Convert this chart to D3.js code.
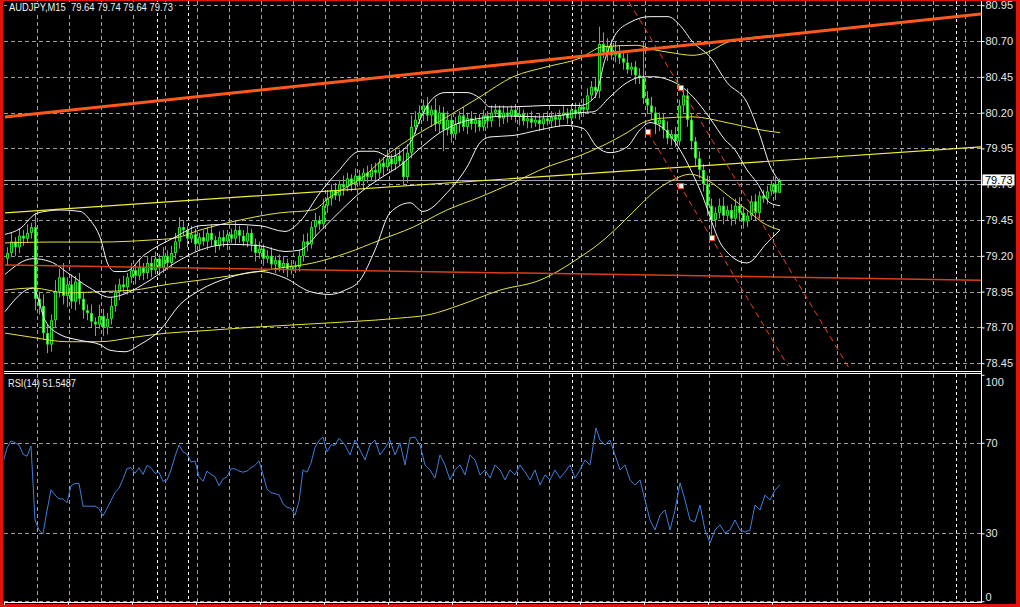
<!DOCTYPE html>
<html><head><meta charset="utf-8">
<script src="https://cdn.jsdelivr.net/npm/d3@7"></script>
<style>html,body{margin:0;padding:0;background:#000;overflow:hidden}</style>
</head><body><svg id="c" width="1020" height="607"></svg>
<script>
// ---------- DATA ----------
const symbolTitle = "AUDJPY,M15  79.64 79.74 79.64 79.73";
const rsiTitle = "RSI(14) 51.5487";
const priceTicks = [80.95,80.70,80.45,80.20,79.95,79.70,79.45,79.20,78.95,78.70,78.45];
const rsiTicks = [100,70,30,0];
const rsiLevels = [70,30,0];
const lastPrice = 79.73;
const firstOpen = 79.18;
const closes = [79.22,79.30,79.26,79.34,79.32,79.36,79.40,
78.90,
78.85,78.66,78.58,78.75,
78.95,79.05,78.92,79.00,78.88,79.02,78.90,
78.82,78.80,78.74,78.72,78.78,78.70,78.76,78.85,
78.95,79.00,78.98,79.05,79.10,79.06,79.12,79.08,79.15,
79.10,79.18,79.12,79.20,79.15,79.22,79.30,79.40,
79.38,79.32,79.35,79.28,79.33,79.30,79.36,79.31,79.27,79.33,79.30,79.35,79.32,79.38,79.34,79.30,79.36,79.28,79.22,
79.25,79.18,79.20,79.14,79.17,79.12,79.15,79.10,79.13,79.12,
79.20,79.30,79.28,79.40,79.45,79.42,79.55,79.60,
79.66,79.62,79.70,79.68,79.74,79.70,79.76,79.72,79.78,79.75,
79.80,79.78,79.85,79.82,79.88,79.84,79.90,79.86,79.75,79.92,
80.10,80.15,80.20,
80.25,80.18,80.22,80.12,80.20,80.08,80.15,80.05,
80.12,80.18,80.10,80.16,80.12,80.15,80.10,
80.18,80.14,80.20,80.22,80.16,80.20,80.18,80.22,80.17,80.19,80.14,80.16,80.13,80.15,80.12,80.16,80.14,80.17,80.15,
80.18,80.20,80.16,80.22,80.19,80.24,80.22,
80.32,80.38,80.35,
80.68,
80.62,80.66,80.60,80.63,80.58,
80.55,80.50,80.52,80.46,80.44,
80.30,80.25,80.20,80.12,
80.15,80.08,80.02,80.05,
80.00,80.25,80.32,
80.15,80.00,79.88,
79.80,79.70,79.55,
79.45,
79.50,79.55,79.48,79.52,79.46,79.55,79.50,79.44,79.48,
79.58,79.50,79.62,79.60,
79.65,79.70,79.64,79.73];
// wick extents in hundredths of a yen
const wickUp = [4,6,3,5,4,6,3, 10, 5,8,6,4, 8,6,10,5,7,4,6, 5,4,6,3,8,5,4,6, 5,4,6,3,5,4,6,3,5,
4,5,3,6,4,5,6,7, 5,3,6,4,3,5,4,6,3,4,5,3,4,6,3,4,5,3,4, 5,3,4,6,3,4,5,3,4,3, 4,5,6,4,5,3,5,6,
4,5,3,6,4,3,5,4,3,5, 4,5,3,4,6,3,5,4,8,6, 8,6,5, 4,6,3,8,5,4,6,3, 5,3,6,4,5,3,4,
4,3,5,4,3,5,4,3,4,5,3,4,5,3,4,3,5,4,3, 4,5,3,4,5,3,6, 5,4,6, 12, 8,6,5,7,4, 5,6,3,4,5,
26,5,6,4, 5,4,6,3, 5,4,6, 5,4,3, 5,4,6, 5, 4,5,6,3,4,5,6,4,3, 4,5,3,4, 4,3,5,1];
const wickDown = [5,3,6,4,5,3,4, 8, 6,5,6,5, 5,4,6,8,5,6,4, 6,5,4,8,3,6,5,4, 4,6,3,5,4,6,3,5,4,
5,3,6,4,5,3,4,5, 4,6,3,5,4,3,6,4,5,3,4,6,3,4,5,3,4,5,6, 4,5,3,4,6,3,4,5,3,4, 3,4,5,3,6,4,3,5,
5,3,4,6,3,5,4,3,6,4, 3,5,4,6,3,5,4,3,5,4, 4,5,3, 6,4,8,5,6,15,4,6, 4,6,3,5,4,6,3,
3,5,4,3,6,4,5,3,4,6,3,5,4,3,5,4,3,4,5, 5,3,4,6,3,4,5, 3,4,5, 5, 4,6,3,5,4, 5,3,4,6,4,
4,6,5,7, 5,6,4,5, 4,3,5, 5,6,5, 6,5,7, 13, 5,4,6,3,5,4,6,5,4, 3,5,4,3, 4,3,5,0];

// indicator readings: [bar index, price]
const bbUpper = [[-0.5,79.35],[3.25,79.39],[7,79.49],[9.5,79.51],[13.25,79.52],[18.25,79.51],[20.75,79.45],[23.25,79.33],[25.25,79.14],[27,79.09],[29.5,79.09],[34.5,79.21],[42,79.33],[48.25,79.41],[55.75,79.42],[63.25,79.41],[69.5,79.37],[73.25,79.44],[78.25,79.64],[82.5,79.78],[88.25,79.93],[92,79.93],[95.75,79.89],[99,79.94],[101.25,80.01],[103.25,80.15],[106.5,80.30],[109.5,80.34],[115,80.34],[118.25,80.30],[120.75,80.24],[126.5,80.24],[135,80.25],[143.25,80.25],[147,80.31],[149.5,80.57],[152,80.74],[155.75,80.83],[160.75,80.87],[165.25,80.87],[168.25,80.81],[171.5,80.69],[175.75,80.59],[180,80.41],[185,80.27],[188.25,80.04],[190.75,79.83],[193.25,79.715]];
const bbMiddle = [[-0.5,79.07],[6.5,79.18],[10.75,79.16],[15.75,79.07],[20.75,78.975],[25.75,78.91],[30.75,78.95],[35.75,79.03],[42,79.15],[48.25,79.24],[55.75,79.28],[63.25,79.27],[69.5,79.23],[73.25,79.24],[78.25,79.37],[83.25,79.51],[88.25,79.64],[93.25,79.74],[98.25,79.83],[103.25,79.95],[108.25,80.06],[113.25,80.13],[118.25,80.16],[125.75,80.176],[133.25,80.17],[138.25,80.18],[143.25,80.20],[146.5,80.205],[150.75,80.31],[155,80.41],[159,80.45],[162,80.45],[165.25,80.43],[168.25,80.39],[171.5,80.31],[175.75,80.16],[179.5,80.01],[182,79.94],[185,79.80],[187.5,79.71],[190.75,79.57],[193.25,79.55]];
const bbLower = [[-0.5,78.81],[6.5,78.975],[9.5,78.75],[13.25,78.65],[18.25,78.61],[23.25,78.58],[25.75,78.54],[29.5,78.53],[33.25,78.58],[38.25,78.68],[43.25,78.86],[48.25,78.96],[55.75,79.05],[63.25,79.09],[69.5,79.045],[75.75,78.95],[80.75,78.93],[84.5,78.96],[88.25,79.03],[92,79.24],[95.75,79.50],[100.75,79.57],[104,79.51],[110,79.64],[115,79.82],[118.25,79.99],[120.75,80.03],[126.5,80.04],[133.25,80.08],[140,80.11],[144,80.09],[147.5,79.96],[150.75,79.92],[155,79.96],[158.25,80.08],[160.75,80.13],[164.5,80.08],[168.25,79.94],[173.25,79.66],[179,79.26],[185,79.15],[190,79.29],[193.25,79.38]];
const maUpper = [[-0.5,79.29],[10.75,79.296],[23.25,79.296],[35.75,79.31],[42,79.324],[48.25,79.38],[58.25,79.45],[68.25,79.50],[76.5,79.52],[80.75,79.61],[89,79.75],[95.75,79.92],[101.5,80.03],[110,80.17],[118.25,80.31],[126.5,80.45],[135,80.52],[143.25,80.58],[149,80.66],[157.5,80.67],[161.5,80.64],[165.75,80.62],[171.5,80.60],[175,80.62],[180,80.69],[185,80.72],[193.25,80.74]];
const maMiddle = [[-0.5,78.96],[6.5,78.975],[15,78.94],[23.25,78.95],[31.5,78.96],[40,79.00],[48.25,79.03],[58.25,79.07],[68.25,79.115],[76.5,79.15],[85,79.22],[93.25,79.31],[101.5,79.40],[110,79.52],[118.25,79.61],[126.5,79.71],[135,79.82],[143.25,79.90],[148.25,79.96],[155,80.06],[159,80.13],[163.25,80.16],[171.5,80.17],[180,80.13],[188.25,80.08],[193.25,80.06]];
const maLower = [[-0.5,78.66],[6.5,78.63],[15,78.60],[23.25,78.60],[31.5,78.63],[40,78.66],[48.25,78.675],[60.75,78.70],[73.25,78.72],[85.75,78.74],[98.25,78.765],[105.75,78.79],[113.25,78.856],[123.25,78.96],[133.25,79.03],[143.25,79.19],[148.25,79.29],[153.25,79.415],[158.25,79.554],[161.5,79.64],[166.5,79.73],[170.75,79.77],[175,79.73],[180.75,79.61],[185,79.52],[189,79.43],[193.25,79.38]];

// drawn objects: [bar index, price] end points
const yellowTrend = [[-0.5,79.50],[243.5,79.96]];
const orangeTrend = [[-0.5,80.169],[243.5,80.888]];
const redTrend = [[-0.5,79.135],[243.5,79.03]];
const channelUpper = [[155.5,80.972],[210.5,78.416]];
const channelLower = [[160.25,80.064],[195.25,78.43]];
const channelAnchors = [[160.25,80.064],[168.5,80.372],[168.5,79.687],[176.25,79.324]];

// RSI readings: [bar index, value]
const rsiPoints = [[-1,61],[0,67.7],[1,70.8],[2,70],[3,69],[4,65],[5,64],[6,68.6],[7,35.9],[8,31.5],[9,29.8],[10,40],[11,49.2],[12,47],[13,45.2],[14,45.2],[15,43.5],[16,51],[17,52],[18,52],[19,42],[20,42],[21,42],[22,42],[23,41],[24,37.7],[25,41],[26,44.5],[27,48],[28,50],[29,54],[30,58.6],[31,59],[32,56.5],[33,59],[34,56],[35,60],[36,59],[37,56.5],[38,57],[39,53],[40,53.5],[41,58],[42,64],[43,69],[44,66],[45,65],[46,61.5],[47,62],[48,55],[49,53],[50,57.5],[51,56],[52,55],[53,51],[54,54],[55,55],[56,58.5],[57,58.5],[58,57.5],[59,57],[60,57.5],[61,59],[62,60],[63,62],[64,56],[65,49.5],[66,48],[67,47.5],[68,47],[69,43],[70,41.5],[71,41],[72,38],[73,44],[74,58],[75,57],[76,61],[77,68],[78,71],[79,72.5],[80,66],[81,69],[82,69],[83,72],
[84.5,69],[85.75,64.6],[87,71.2],[88.25,66.8],[89.5,62.4],[90.75,69],[92,71.2],[93.25,64.6],[94.5,67.7],[95.75,71.2],[97,64.6],[98.25,70],[99.5,60.2],[100.75,72.1],[102,72.5],[103.25,69],[104.5,60.2],[105.75,58],[107,54.4],[108.25,64.6],[109.5,60.2],[110.75,53.6],[112,58],[113.25,60.2],[114.5,55.8],[115.75,64.6],[117,62.4],[118.25,55.8],[119.5,58],[120.75,54.4],[122,60.2],[123.25,58],[124.5,53.6],[125.75,58],[127,55.8],[128.25,60.2],[129.5,57.1],[130.75,53.6],[132,58],[133.25,51.3],[134.5,55.8],[135.75,53.6],[137,58],[138.25,54.4],[139.5,57.1],[140.75,60.2],[142,54.4],[143.25,58],[144.5,62.4],[145.75,60.2],[147.25,76.5],[148.25,71.2],[149.5,69],[150.75,71.2],[152,64.6],[153.25,58],[154.5,60.2],[155.75,53.6],[157,51.3],[158.25,53.6],[159.5,44.7],[160.75,35.9],[162,31.5],[163.25,38.1],[164.5,40.3],[165.75,31.5],[167,40.3],[168.25,52.3],[169.5,44.7],[170.75,35.9],[172,35],[173.25,42.5],[174.5,31.5],[175.75,25.7],[177,31.5],[178.25,33.7],[179.5,30.2],[180.75,31.5],[182,35.9],[183.25,31.5],[184.5,30.6],[185.75,31.5],[187,42.5],[188.25,40.3],[189.5,46.9],[190.75,44.7],[192,49.1],[193.25,51.5]];

const separatorBars = [37.4, 45.3, 141.3, 237.3];

// ---------- DRAW ----------
const W = 1020, H = 607;
const svg = d3.select("#c");
const xB = d3.scaleLinear().domain([0, 193]).range([7, 779]);
const yP = d3.scaleLinear().domain([78.45, 80.95]).range([363.2, 5.2]);
const yR = d3.scaleLinear().domain([0, 100]).range([601.3, 374.8]);
const px = v => Math.round(v) + 0.5;
const L = 4, R = 981, mainTop = 1, mainBot = 371, rsiTop = 374, rsiBot = 602;

svg.append("rect").attr("width", W).attr("height", H).attr("fill", "#e3130c");
svg.append("rect").attr("x", 3).attr("y", 1).attr("width", 1013).attr("height", 603).attr("fill", "#000");

const defs = svg.append("defs");
defs.append("clipPath").attr("id", "cm").append("rect").attr("x", L).attr("y", mainTop).attr("width", R - L).attr("height", mainBot - mainTop);
defs.append("clipPath").attr("id", "cr").append("rect").attr("x", L).attr("y", rsiTop).attr("width", R - L).attr("height", rsiBot - rsiTop);

const gridCol = "#9aa0a6";
const grid = svg.append("g").attr("stroke", gridCol).attr("stroke-width", 1).attr("stroke-dasharray", "4,3");
priceTicks.forEach(v => grid.append("line").attr("x1", L).attr("x2", R).attr("y1", px(yP(v))).attr("y2", px(yP(v))));
rsiLevels.forEach(v => grid.append("line").attr("x1", L).attr("x2", R).attr("y1", px(yR(v))).attr("y2", px(yR(v))));
for (let k = 0; ; k++) {
  const x = xB(7.425 + 8 * k);
  if (x > R - 2) break;
  grid.append("line").attr("x1", px(x)).attr("x2", px(x)).attr("y1", mainTop).attr("y2", mainBot);
  grid.append("line").attr("x1", px(x)).attr("x2", px(x)).attr("y1", rsiTop).attr("y2", rsiBot);
}
const sep = svg.append("g").attr("stroke", "#ffffff").attr("stroke-width", 1).attr("stroke-dasharray", "3,3");
separatorBars.forEach(b => {
  const x = px(xB(b));
  sep.append("line").attr("x1", x).attr("x2", x).attr("y1", mainTop).attr("y2", mainBot);
  sep.append("line").attr("x1", x).attr("x2", x).attr("y1", rsiTop).attr("y2", rsiBot);
});

// main panel content
const gm = svg.append("g").attr("clip-path", "url(#cm)");
gm.append("line").attr("x1", L).attr("x2", R).attr("y1", px(yP(lastPrice))).attr("y2", px(yP(lastPrice)))
  .attr("stroke", "#a4a4b0").attr("stroke-width", 1);

const bars = closes.map((c, i) => {
  const o = i === 0 ? firstOpen : closes[i - 1];
  return { i, o, c, h: Math.max(o, c) + wickUp[i] / 100, l: Math.min(o, c) - wickDown[i] / 100 };
});
const cg = gm.append("g");
bars.forEach(b => {
  const x = Math.round(xB(b.i));
  cg.append("line").attr("x1", x + 0.5).attr("x2", x + 0.5).attr("y1", yP(b.h)).attr("y2", yP(b.l))
    .attr("stroke", "#2fd62f").attr("stroke-width", 1);
  const y1 = yP(Math.max(b.o, b.c)), y2 = yP(Math.min(b.o, b.c));
  const hh = Math.max(1, y2 - y1);
  cg.append("rect").attr("x", x - 1).attr("y", y1).attr("width", 3).attr("height", hh).attr("fill", "#2fd62f");
  if (hh > 2) cg.append("rect").attr("x", x).attr("y", y1 + 1).attr("width", 1).attr("height", hh - 2)
    .attr("fill", b.c < b.o ? "#b8f8b8" : "#0c300c");
});

const line = d3.line().x(d => xB(d[0])).y(d => yP(d[1])).curve(d3.curveMonotoneX);
const straight = d3.line().x(d => xB(d[0])).y(d => yP(d[1]));
[[maLower, "#e4e43a"], [maMiddle, "#e4e43a"], [maUpper, "#e4e43a"]].forEach(([d, c]) =>
  gm.append("path").attr("d", line(d)).attr("fill", "none").attr("stroke", c).attr("stroke-width", 1));
[bbUpper, bbMiddle, bbLower].forEach(d =>
  gm.append("path").attr("d", line(d)).attr("fill", "none").attr("stroke", "#f4f4f4").attr("stroke-width", 1));
gm.append("path").attr("d", straight(yellowTrend)).attr("fill", "none").attr("stroke", "#f0f03c").attr("stroke-width", 1.2);
gm.append("path").attr("d", straight(redTrend)).attr("fill", "none").attr("stroke", "#d8401c").attr("stroke-width", 1.5);
gm.append("path").attr("d", straight(orangeTrend)).attr("fill", "none").attr("stroke", "#ff5a1c").attr("stroke-width", 3);
[channelUpper, channelLower].forEach(d =>
  gm.append("path").attr("d", straight(d)).attr("fill", "none").attr("stroke", "#f0401c").attr("stroke-width", 1).attr("stroke-dasharray", "6,4"));
channelAnchors.forEach(d =>
  gm.append("rect").attr("x", xB(d[0]) - 2.5).attr("y", yP(d[1]) - 2.5).attr("width", 5).attr("height", 5)
    .attr("fill", "#ffffff").attr("stroke", "#f04820").attr("stroke-width", 1));

// RSI
const gr = svg.append("g").attr("clip-path", "url(#cr)");
const rsiLine = d3.line().x(d => xB(d[0])).y(d => yR(d[1]));
gr.append("path").attr("d", rsiLine(rsiPoints)).attr("fill", "none").attr("stroke", "#3f7fdc").attr("stroke-width", 1);

// borders
const bd = svg.append("g").attr("stroke", "#ffffff").attr("stroke-width", 1);
bd.append("line").attr("x1", L).attr("x2", R + 0.5).attr("y1", mainBot + 0.5).attr("y2", mainBot + 0.5);
bd.append("line").attr("x1", L).attr("x2", R + 0.5).attr("y1", rsiTop - 0.5).attr("y2", rsiTop - 0.5);
bd.append("line").attr("x1", R + 0.5).attr("x2", R + 0.5).attr("y1", mainTop).attr("y2", rsiBot + 1);
bd.append("line").attr("x1", L).attr("x2", R + 0.5).attr("y1", rsiBot + 0.5).attr("y2", rsiBot + 0.5);
for (let k = 0; k <= 12; k++) {
  const x = px(xB(-0.75 + 16 * k));
  bd.append("line").attr("x1", x).attr("x2", x).attr("y1", rsiBot + 0.5).attr("y2", rsiBot + 3);
}

// axes
const font = "'Liberation Sans', Arial, sans-serif";
const pa = svg.append("g").attr("transform", `translate(${R + 0.5},0)`)
  .call(d3.axisRight(yP).tickValues(priceTicks).tickSize(3).tickPadding(1).tickFormat(d3.format(".2f")));
pa.select(".domain").remove();
pa.selectAll("line").attr("stroke", "#fff");
pa.selectAll("text").attr("fill", "#e6e6e6").style("font-family", font).style("font-size", "11px");

const ra = svg.append("g").attr("transform", `translate(${R + 0.5},0)`)
  .call(d3.axisRight(yR).tickValues(rsiTicks).tickSize(3).tickPadding(1).tickFormat(d3.format("d")));
ra.select(".domain").remove();
ra.selectAll("line").attr("stroke", "#fff");
ra.selectAll("text").attr("fill", "#e6e6e6").style("font-family", font).style("font-size", "11px")
  .attr("dy", d => d === 100 ? "0.95em" : d === 0 ? "-0.1em" : "0.32em");

// last price label
const ly = yP(lastPrice);
svg.append("rect").attr("x", R + 1.5).attr("y", ly - 5.5).attr("width", 32).attr("height", 11).attr("fill", "#ffffff");
svg.append("text").attr("x", R + 4).attr("y", ly + 4).text(lastPrice.toFixed(2))
  .attr("fill", "#000").style("font-family", font).style("font-size", "11px");

// titles
svg.append("rect").attr("x", 7).attr("y", 2).attr("width", 168).attr("height", 11).attr("fill", "#000");
svg.append("text").attr("x", 9).attr("y", 11).text(symbolTitle).attr("textLength", 164).attr("lengthAdjust", "spacingAndGlyphs")
  .attr("fill", "#f0f0f0").style("font-family", font).style("font-size", "11px").style("white-space", "pre").attr("xml:space", "preserve");
svg.append("text").attr("x", 8).attr("y", 387).text(rsiTitle).attr("textLength", 68).attr("lengthAdjust", "spacingAndGlyphs")
  .attr("fill", "#f0f0f0").style("font-family", font).style("font-size", "11px");
</script>
</body></html>
